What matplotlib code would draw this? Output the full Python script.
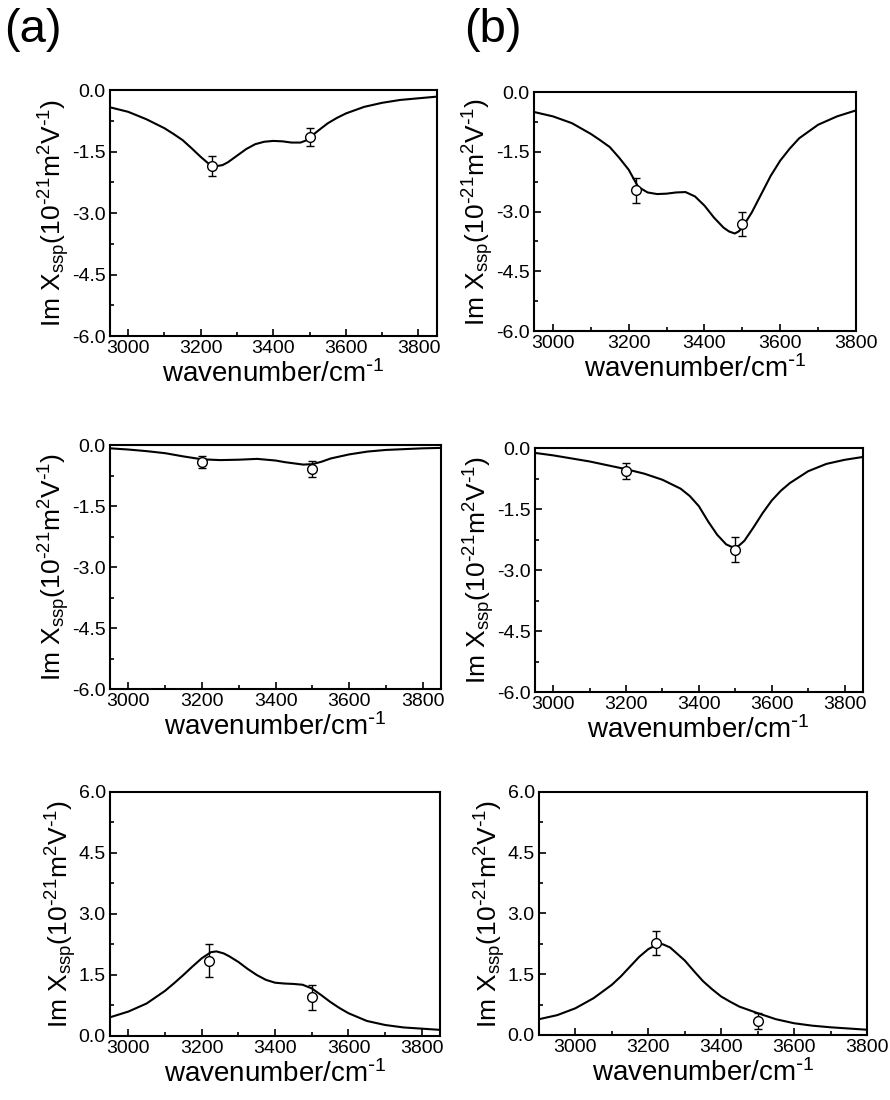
import numpy as np
import matplotlib
matplotlib.use("Agg")
import matplotlib.pyplot as plt
from matplotlib.ticker import MultipleLocator

plt.rcParams['font.family'] = ['Liberation Sans', 'DejaVu Sans']
plt.rcParams['mathtext.default'] = 'regular'

# fitted curves (wavenumber, Im chi)
wn_a1 = [2950, 3000, 3050, 3100, 3125, 3150, 3175, 3200, 3225, 3240, 3260, 3275, 3300,
         3325, 3350, 3375, 3400, 3425, 3450, 3475, 3490, 3500, 3525, 3550, 3575, 3600,
         3650, 3700, 3750, 3800, 3850]
fit_a1 = [-0.42, -0.53, -0.71, -0.93, -1.07, -1.22, -1.42, -1.63, -1.82, -1.86, -1.83, -1.76, -1.60,
          -1.44, -1.32, -1.26, -1.24, -1.25, -1.28, -1.28, -1.23, -1.16, -0.98, -0.81, -0.68, -0.57,
          -0.41, -0.31, -0.24, -0.20, -0.16]

wn_a2 = [2950, 3000, 3050, 3100, 3150, 3200, 3250, 3300, 3350, 3400, 3425, 3450, 3475,
         3500, 3525, 3550, 3600, 3650, 3700, 3750, 3800, 3850]
fit_a2 = [-0.08, -0.11, -0.15, -0.20, -0.28, -0.35, -0.37, -0.36, -0.34, -0.38, -0.42, -0.45, -0.48,
          -0.47, -0.41, -0.33, -0.23, -0.16, -0.12, -0.10, -0.08, -0.07]

wn_a3 = [2950, 3000, 3050, 3100, 3125, 3150, 3175, 3200, 3225, 3240, 3260, 3275, 3300,
         3325, 3350, 3375, 3400, 3425, 3450, 3475, 3500, 3525, 3550, 3575, 3600,
         3650, 3700, 3750, 3800, 3850]
fit_a3 = [0.46, 0.60, 0.80, 1.11, 1.30, 1.50, 1.71, 1.91, 2.06, 2.08, 2.03, 1.96, 1.82,
          1.65, 1.50, 1.38, 1.31, 1.29, 1.28, 1.26, 1.17, 1.01, 0.84, 0.69, 0.56,
          0.37, 0.27, 0.21, 0.18, 0.15]

wn_b1 = [2950, 3000, 3050, 3100, 3125, 3150, 3175, 3200, 3225, 3250, 3275, 3300, 3325, 3350,
         3375, 3400, 3425, 3450, 3465, 3480, 3490, 3500, 3525, 3550, 3575, 3600, 3625,
         3650, 3700, 3750, 3800]
fit_b1 = [-0.50, -0.61, -0.78, -1.05, -1.21, -1.38, -1.65, -1.95, -2.38, -2.52, -2.56, -2.55, -2.52, -2.51,
          -2.62, -2.85, -3.15, -3.40, -3.50, -3.55, -3.50, -3.40, -3.02, -2.56, -2.10, -1.72, -1.42,
          -1.16, -0.82, -0.61, -0.46]

wn_b2 = [2950, 3000, 3100, 3200, 3250, 3300, 3350, 3375, 3400, 3425, 3450, 3475, 3490, 3500,
         3510, 3525, 3550, 3575, 3600, 3625, 3650, 3700, 3750, 3800, 3850]
fit_b2 = [-0.12, -0.18, -0.33, -0.52, -0.63, -0.78, -1.00, -1.18, -1.43, -1.80, -2.13, -2.37, -2.43, -2.43,
          -2.40, -2.28, -1.95, -1.60, -1.29, -1.05, -0.86, -0.57, -0.39, -0.29, -0.22]

wn_b3 = [2900, 2950, 3000, 3050, 3100, 3125, 3150, 3175, 3200, 3225, 3240, 3260, 3275, 3300,
         3325, 3350, 3375, 3400, 3425, 3450, 3500, 3550, 3600, 3650, 3700, 3750, 3800]
fit_b3 = [0.39, 0.49, 0.66, 0.91, 1.24, 1.45, 1.69, 1.93, 2.12, 2.24, 2.24, 2.16, 2.04, 1.84,
          1.58, 1.33, 1.13, 0.95, 0.82, 0.70, 0.54, 0.39, 0.29, 0.23, 0.19, 0.16, 0.13]

# measured points with error bars
pts_x = {
    'a1': [3230, 3500], 'a2': [3200, 3500], 'a3': [3220, 3500],
    'b1': [3220, 3500], 'b2': [3200, 3500], 'b3': [3220, 3500],
}
pts_y = {
    'a1': [-1.85, -1.15], 'a2': [-0.42, -0.59], 'a3': [1.85, 0.95],
    'b1': [-2.47, -3.31], 'b2': [-0.57, -2.50], 'b3': [2.27, 0.35],
}
pts_err = {
    'a1': [0.24, 0.22], 'a2': [0.15, 0.20], 'a3': [0.41, 0.30],
    'b1': [0.31, 0.30], 'b2': [0.20, 0.31], 'b3': [0.30, 0.20],
}

panels = [
    # key, x, y, axes rect, xlim, ylim
    ('a1', wn_a1, fit_a1, [0.1236, 0.6945, 0.367, 0.2236], (2950, 3850), (-6, 0)),
    ('b1', wn_b1, fit_b1, [0.600, 0.699, 0.3618, 0.2173], (2950, 3800), (-6, 0)),
    ('a2', wn_a2, fit_a2, [0.1236, 0.3736, 0.372, 0.2218], (2950, 3850), (-6, 0)),
    ('b2', wn_b2, fit_b2, [0.601, 0.3709, 0.3685, 0.2218], (2950, 3850), (-6, 0)),
    ('a3', wn_a3, fit_a3, [0.1236, 0.0582, 0.371, 0.2218], (2950, 3850), (0, 6)),
    ('b3', wn_b3, fit_b3, [0.6056, 0.0591, 0.3685, 0.2209], (2900, 3800), (0, 6)),
]

fig = plt.figure(figsize=(8.9, 11), dpi=100)

for key, x, y, rect, xlim, ylim in panels:
    ax = fig.add_axes(rect)
    ax.plot(x, y, color='black', lw=1.5)
    ax.errorbar(pts_x[key], pts_y[key], yerr=pts_err[key], fmt='o', mfc='white',
                mec='black', color='black', ms=7, mew=1.0, elinewidth=1.0,
                capsize=3, capthick=1.0, zorder=3)
    ax.set_xlim(*xlim)
    ax.set_ylim(*ylim)
    ax.xaxis.set_major_locator(MultipleLocator(200))
    ax.xaxis.set_minor_locator(MultipleLocator(100))
    ax.yaxis.set_major_locator(MultipleLocator(1.5))
    ax.yaxis.set_minor_locator(MultipleLocator(0.75))
    ax.yaxis.set_major_formatter(plt.FormatStrFormatter('%.1f'))
    ax.tick_params(which='both', direction='in', top=False, right=False,
                   labelsize=14, width=1.2, pad=3)
    ax.tick_params(which='major', length=5)
    ax.tick_params(which='minor', length=3)
    for s in ax.spines.values():
        s.set_linewidth(1.5)
    ax.set_xlabel(r'wavenumber/cm$^{\text{-}1}$', fontsize=20, labelpad=2)
    ax.set_ylabel(r'Im X$_{ssp}$(10$^{\text{-}21}$m$^{2}$V$^{\text{-}1}$)', fontsize=19, labelpad=0)

fig.text(0.005, 0.993, '(a)', fontsize=34, va='top', ha='left')
fig.text(0.522, 0.993, '(b)', fontsize=34, va='top', ha='left')

fig.savefig('out.png', dpi=100)
